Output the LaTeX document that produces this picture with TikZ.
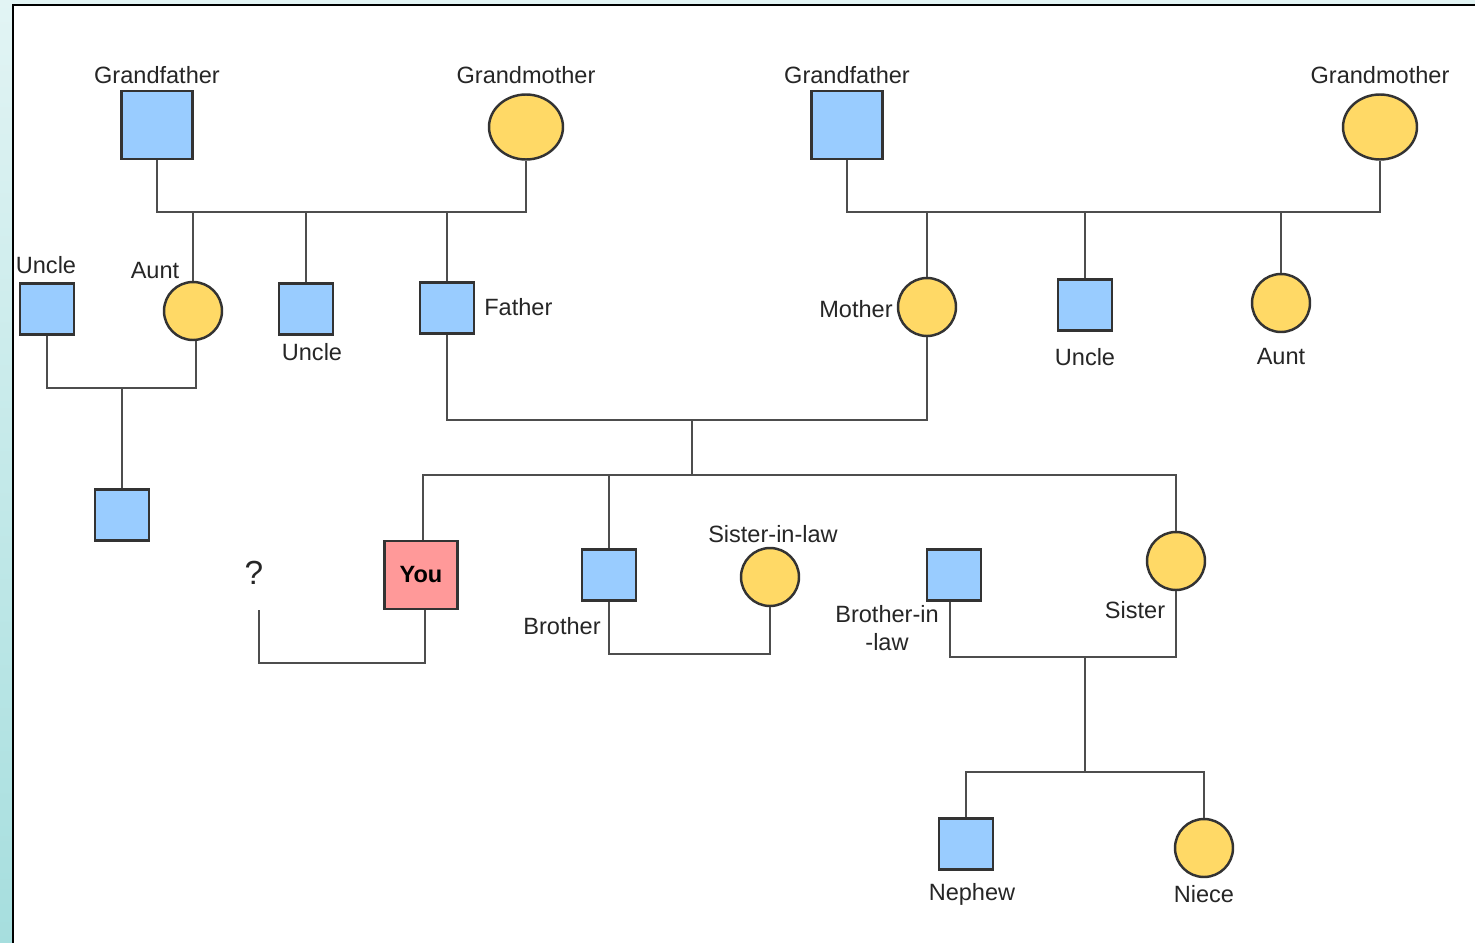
\documentclass[tikz,border=0pt]{standalone}
\usepackage{fontspec}
\setmainfont{Liberation Sans}
\usetikzlibrary{positioning,shapes.geometric}

\definecolor{maleblue}{HTML}{99CCFF}
\definecolor{femyellow}{HTML}{FFD966}
\definecolor{youpink}{HTML}{FF9999}
\definecolor{edgegray}{HTML}{333333}
\definecolor{linkgray}{HTML}{4D4D4D}
\definecolor{stripteal}{HTML}{A6DEDE}
\definecolor{stripwhite}{HTML}{E2F4F4}

\tikzset{
  male/.style={draw=edgegray,line width=1.4pt,fill=maleblue,inner sep=0pt,
    minimum width=1.08cm,minimum height=1.02cm},
  bigmale/.style={male,minimum width=1.42cm,minimum height=1.36cm},
  female/.style={circle,draw=edgegray,line width=1.4pt,fill=femyellow,inner sep=0pt,
    minimum size=1.16cm},
  bigfemale/.style={ellipse,draw=edgegray,line width=1.4pt,fill=femyellow,inner sep=0pt,
    minimum width=1.48cm,minimum height=1.3cm},
  youbox/.style={male,fill=youpink,minimum width=1.46cm,minimum height=1.36cm,
    font=\fontsize{13.4}{16}\selectfont\bfseries},
  lbl/.style={inner sep=0pt,font=\fontsize{13.4}{16}\selectfont,text=black!85},
  link/.style={draw=linkgray,line width=1.2pt}
}

\begin{document}
\begin{tikzpicture}[x=0.02cm,y=-0.02cm]
\useasboundingbox (0,0) rectangle (1475,943);

% frame
\shade[top color=stripwhite,bottom color=stripteal] (0,0) rectangle (14,943);
\fill[stripwhite] (0,0) rectangle (1475,6);
\fill[white] (14,6) rectangle (1475,943);
\draw[line width=1.2pt,black] (13,943) -- (13,5) -- (1475,5);

% grandparents
\node[bigmale] (gfa) at (157,125) {};
\node[bigfemale] (gma) at (526,127) {};
\node[bigmale] (gfb) at (847,125) {};
\node[bigfemale] (gmb) at (1380,127) {};
\node[lbl] (gfalbl) at (157,75) {Grandfather};
\node[lbl] (gmalbl) at (526,75) {Grandmother};
\node[lbl] (gfblbl) at (847,75) {Grandfather};
\node[lbl] (gmblbl) at (1380,75) {Grandmother};

% parents generation
\node[male] (uncleA) at (47,309) {};
\node[female] (auntA) at (193,311) {};
\node[male] (uncleB) at (306,309) {};
\node[male] (father) at (447,308) {};
\node[female] (mother) at (927,307) {};
\node[male] (uncleC) at (1085,305) {};
\node[female] (auntB) at (1281,303) {};
\node[lbl] (uncleAlbl) at (46,265) {Uncle};
\node[lbl] (auntAlbl) at (155,271) {Aunt};
\node[lbl] (uncleBlbl) at (312,352) {Uncle};
\node[lbl,anchor=west] (fatherlbl) at (484,307) {Father};
\node[lbl,anchor=east] (motherlbl) at (893,309) {Mother};
\node[lbl] (uncleClbl) at (1085,357) {Uncle};
\node[lbl] (auntBlbl) at (1281,357) {Aunt};

% cousin
\node[male] (cousin) at (122,515) {};

% own generation
\node[youbox] (you) at (421,575) {You};
\node[lbl,font=\fontsize{19}{21}\selectfont] (spouse) at (254,573) {?};
\coordinate (spouseend) at (259,610);
\node[male] (brother) at (609,575) {};
\node[female] (sil) at (770,577) {};
\node[male] (bil) at (954,575) {};
\node[female] (sister) at (1176,561) {};
\node[lbl] (brotherlbl) at (562,626) {Brother};
\node[lbl] (sillbl) at (773,534) {Sister-in-law};
\node[lbl,align=center] (billbl) at (887,628) {Brother-in\\-law};
\node[lbl] (sisterlbl) at (1135,610) {Sister};

% children of sister
\node[male] (nephew) at (966,844) {};
\node[female] (niece) at (1204,848) {};
\node[lbl] (nephewlbl) at (972,894) {Nephew};
\node[lbl] (niecelbl) at (1204,894) {Niece};

% junctions
\coordinate (barA) at (340,212);
\coordinate (barB) at (122,388);
\coordinate (barC) at (692,420);
\coordinate (barD) at (692,475);
\coordinate (barE) at (340,663);
\coordinate (barF) at (690,654);
\coordinate (barG) at (1085,657);
\coordinate (barH) at (1085,772);
\coordinate (barI) at (1100,212);

% connectors
\draw[link] (gfa.south) |- (barA) -| (gma.south);
\draw[link] (auntA.north) -- (auntA.north |- barA);
\draw[link] (uncleB.north) -- (uncleB.north |- barA);
\draw[link] (father.north) -- (father.north |- barA);
\draw[link] (gfb.south) |- (barI) -| (gmb.south);
\draw[link] (mother.north) -- (mother.north |- barI);
\draw[link] (uncleC.north) -- (uncleC.north |- barI);
\draw[link] (auntB.north) -- (auntB.north |- barI);

\draw[link] (uncleA.south) |- (barB) -| ([xshift=0.06cm]auntA.south);
\draw[link] (barB) -- (cousin.north);

\draw[link] (father.south) |- (barC) -| (mother.south);
\draw[link] (barC) -- (barD);
\draw[link] ([xshift=0.04cm]you.north) |- (barD) -| (sister.north);
\draw[link] (brother.north) -- (brother.north |- barD);

\draw[link] (spouseend) |- (barE) -| ([xshift=0.08cm]you.south);
\draw[link] (brother.south) |- (barF) -| (sil.south);
\draw[link] ([xshift=-0.08cm]bil.south) |- (barG) -| (sister.south);
\draw[link] (barG) -- (barH);
\draw[link] (nephew.north) |- (barH) -| (niece.north);
\end{tikzpicture}
\end{document}
